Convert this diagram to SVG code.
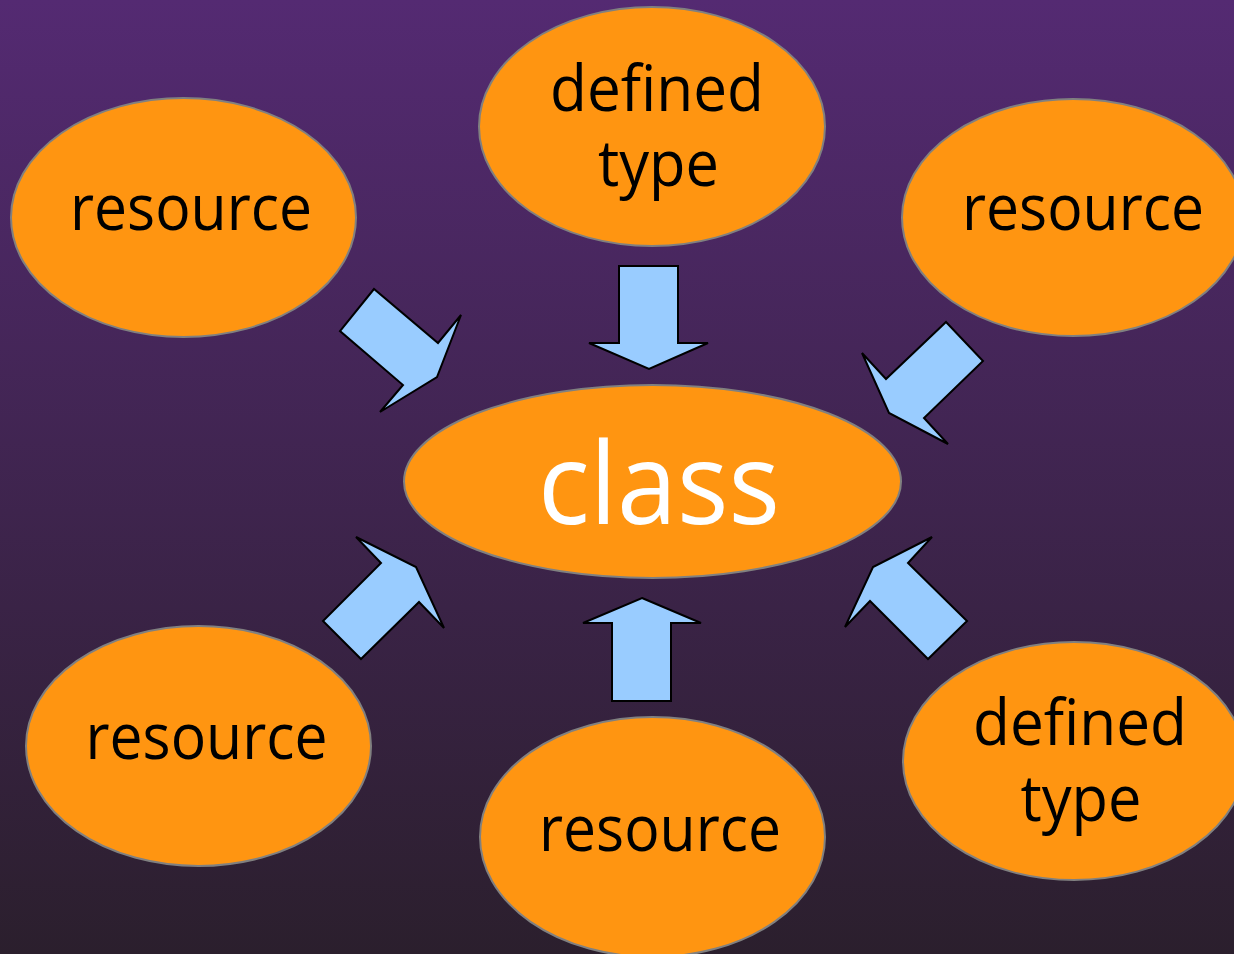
<svg xmlns="http://www.w3.org/2000/svg" width="1234" height="954" viewBox="0 0 1234 954">
<defs>
<linearGradient id="bg" x1="0" y1="0" x2="0" y2="1">
<stop offset="0" stop-color="#542a72"/>
<stop offset="1" stop-color="#2b1f2d"/>
</linearGradient>
</defs>
<style>
.node{fill:#ff9511;stroke:#808080;stroke-width:2}
.lbl{font-family:"Open Sans","DejaVu Sans",sans-serif;font-size:64px;fill:#000;text-anchor:middle}
.cls{font-family:"Open Sans","DejaVu Sans",sans-serif;font-size:114px;fill:#fff;text-anchor:middle}
.arr{fill:#99ccff;stroke:#000;stroke-width:2;stroke-linejoin:miter}
</style>
<rect x="0" y="0" width="1234" height="954" fill="url(#bg)"/>
<g id="connectors">
<polygon class="arr" points="374,289 340,331 403,385 380,412 437,377 461,315 438,343"/>
<polygon class="arr" points="619,266 678,266 678,343 708,343 649,369 589,343 619,343"/>
<polygon class="arr" points="946,322 983,361 924,418 948,444 889,413 862,353 886,379"/>
<polygon class="arr" points="356,537 381,563 323,621 361,659 419,602 444,628 416,567"/>
<polygon class="arr" points="642,598 701,623 671,623 671,701 612,701 612,623 583,623"/>
<polygon class="arr" points="932,537 908,563 967,621 928,659 870,601 845,627 873,567"/>
</g>
<g id="class">
<ellipse class="node" cx="652.5" cy="481.5" rx="248.5" ry="96.5"/>
<text class="cls" x="659" y="524" textLength="242" lengthAdjust="spacingAndGlyphs">class</text>
</g>
<g id="resource-top-left">
<ellipse class="node" cx="183.5" cy="217.5" rx="172.5" ry="119.5"/>
<text class="lbl" x="191" y="230" textLength="242" lengthAdjust="spacingAndGlyphs">resource</text>
</g>
<g id="defined-type-top">
<ellipse class="node" cx="652" cy="126.5" rx="173" ry="119.5"/>
<text class="lbl" x="657" y="111" textLength="214" lengthAdjust="spacingAndGlyphs">defined</text>
<text class="lbl" x="658.5" y="186" textLength="121" lengthAdjust="spacingAndGlyphs">type</text>
</g>
<g id="resource-top-right">
<ellipse class="node" cx="1073" cy="217.5" rx="171" ry="118.5"/>
<text class="lbl" x="1083" y="230" textLength="242" lengthAdjust="spacingAndGlyphs">resource</text>
</g>
<g id="resource-bottom-left">
<ellipse class="node" cx="198.5" cy="746" rx="172.5" ry="120"/>
<text class="lbl" x="206.5" y="759" textLength="242" lengthAdjust="spacingAndGlyphs">resource</text>
</g>
<g id="resource-bottom">
<ellipse class="node" cx="652.5" cy="837" rx="172.5" ry="120"/>
<text class="lbl" x="660" y="851" textLength="242" lengthAdjust="spacingAndGlyphs">resource</text>
</g>
<g id="defined-type-bottom-right">
<ellipse class="node" cx="1074" cy="761" rx="171" ry="119"/>
<text class="lbl" x="1080" y="745" textLength="214" lengthAdjust="spacingAndGlyphs">defined</text>
<text class="lbl" x="1081" y="821" textLength="121" lengthAdjust="spacingAndGlyphs">type</text>
</g>
</svg>
